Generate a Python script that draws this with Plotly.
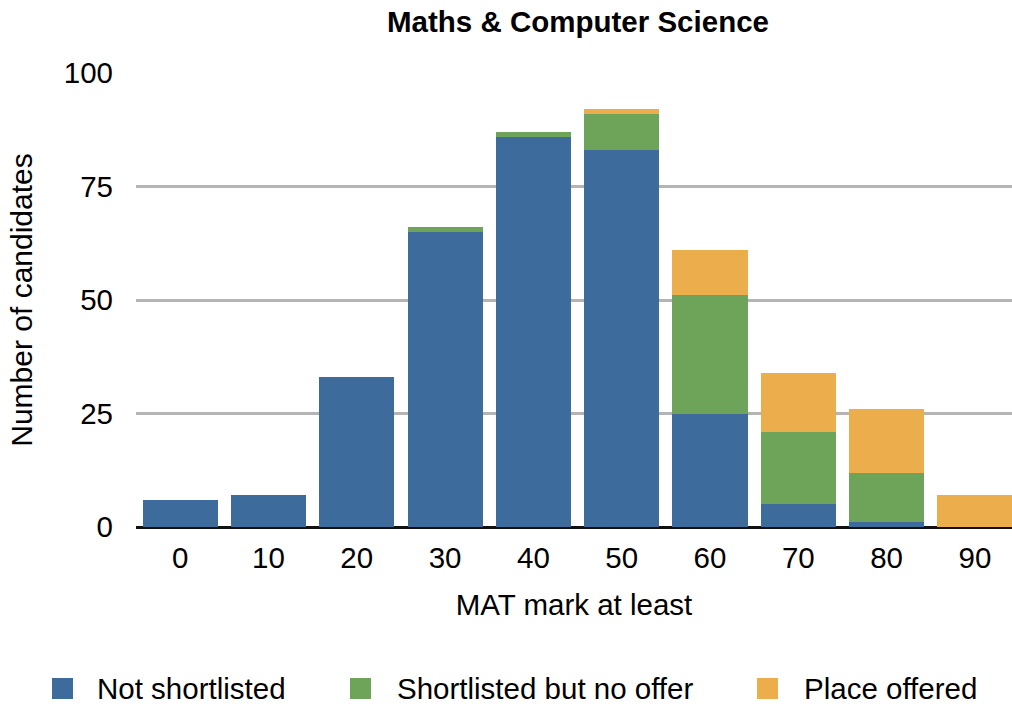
import plotly.graph_objects as go

categories = ["0", "10", "20", "30", "40", "50", "60", "70", "80", "90"]
not_shortlisted = [6, 7, 33, 65, 86, 83, 25, 5, 1, 0]
shortlisted_no_offer = [0, 0, 0, 1, 1, 8, 26, 16, 11, 0]
place_offered = [0, 0, 0, 0, 0, 1, 10, 13, 14, 7]
series_names = ["Not shortlisted", "Shortlisted but no offer", "Place offered"]
series_colors = ["#3c6b9c", "#6da45a", "#ecae4c"]
y_ticks = [0, 25, 50, 75, 100]

FONT = "Liberation Sans, Helvetica, Arial, sans-serif"
FS = 29.5
W, H = 1012, 706
ML, MR, MT, MB = 136, 0, 73, 179
PW, PH = W - ML - MR, H - MT - MB

fig = go.Figure()
for name, vals, col in zip(series_names, [not_shortlisted, shortlisted_no_offer, place_offered], series_colors):
    fig.add_trace(go.Bar(x=categories, y=vals, name=name, marker=dict(color=col, line=dict(width=0)),
                         showlegend=False))

# manual legend (pixel positions -> paper coords)
def px(x):
    return (x - ML) / PW

def py(y):
    return (H - MB - y) / PH

legend_items = [(52, 95), (350, 395), (757, 802)]
shapes = []
annotations = []
for (mx, tx), name, col in zip(legend_items, series_names, series_colors):
    shapes.append(dict(type="rect", xref="paper", yref="paper", x0=px(mx), x1=px(mx + 21),
                       y0=py(699), y1=py(678), fillcolor=col, line=dict(width=0)))
    annotations.append(dict(xref="paper", yref="paper", x=px(tx), y=py(688), text=name,
                            showarrow=False, xanchor="left", yanchor="middle",
                            font=dict(family=FONT, size=FS, color="#000")))

fig.update_layout(
    width=W, height=H,
    margin=dict(l=ML, r=MR, t=MT, b=MB, autoexpand=False),
    barmode="stack", bargap=0.15,
    plot_bgcolor="white", paper_bgcolor="white",
    title=dict(text="<b>Maths & Computer Science</b>", x=px(578), xref="paper", y=1 - 22 / H,
               yanchor="middle", xanchor="center",
               font=dict(family=FONT, size=FS, color="#000")),
    font=dict(family=FONT, size=FS, color="#000"),
    shapes=shapes, annotations=annotations,
    xaxis=dict(title=dict(text="MAT mark at least", standoff=21, font=dict(size=FS)),
               range=[-0.5, 9.42],
               showgrid=False, showline=False, ticks="", ticklabelstandoff=10,
               tickfont=dict(size=FS)),
    yaxis=dict(title=dict(text="Number of candidates", standoff=22, font=dict(size=30)),
               range=[0, 100], tickvals=y_ticks, showgrid=True, gridcolor="#b4b4b4", gridwidth=2.5,
               zeroline=True, zerolinecolor="#111", zerolinewidth=3, showline=False, ticks="",
               ticklabelstandoff=22, tickfont=dict(size=FS)),
)

fig.write_html("out.html", config={"displayModeBar": False},
               post_script="document.body.style.margin='0';document.body.style.overflow='hidden';")
